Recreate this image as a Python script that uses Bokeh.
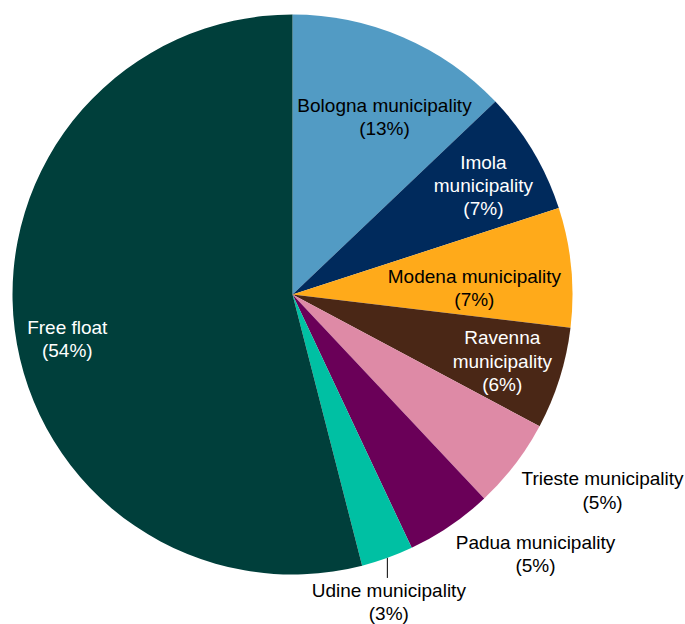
import math
from bokeh.plotting import figure
from bokeh.models import Range1d, ColumnDataSource
from bokeh.core.properties import value
from bokeh.embed import file_html
from bokeh.resources import INLINE

# ---- data ----
names = ["Bologna municipality", "Imola municipality", "Modena municipality",
         "Ravenna municipality", "Trieste municipality", "Padua municipality",
         "Udine municipality", "Free float"]
shares = [12.9, 7.1, 6.9, 5.9, 5.2, 5.0, 3.0, 54.0]
pct_labels = ["13%", "7%", "7%", "6%", "5%", "5%", "3%", "54%"]
label_texts = ["Bologna municipality\n(13%)", "Imola\nmunicipality\n(7%)",
               "Modena municipality\n(7%)", "Ravenna\nmunicipality\n(6%)",
               "Trieste municipality\n(5%)", "Padua municipality\n(5%)",
               "Udine municipality\n(3%)", "Free float\n(54%)"]

# ---- styles / layout ----
colors = ["#529bc4", "#002a5c", "#ffaa1a", "#4a2716", "#de8aa6", "#6a0058",
          "#00c0a3", "#003f3b"]
text_colors = ["black", "white", "black", "white", "black", "black", "black", "white"]
# label polar positions: angle (deg, clockwise from top) and radius factor
label_theta = [27.4, 60.3, 88.0, 107.6, 122.3, 136.9, 162.6, 258.8]
label_r = [0.714, 0.785, 0.65, 0.786, 1.31, 1.27, 1.15, 0.82]

W, H = 685, 624
cx, cy, R = 292, 330, 280

total = sum(shares)
starts, ends = [], []
cum = 0.0
for s in shares:
    a0 = math.pi / 2 - 2 * math.pi * cum / total
    cum += s
    a1 = math.pi / 2 - 2 * math.pi * cum / total
    starts.append(a0)
    ends.append(a1)

src = ColumnDataSource(dict(start=starts, end=ends, color=colors, name=names))

p = figure(width=W, height=H, output_backend="svg", toolbar_location=None,
           x_range=Range1d(0, W), y_range=Range1d(0, H), min_border=0)
p.axis.visible = False
p.grid.visible = False
p.outline_line_color = None
p.background_fill_color = "white"

p.wedge(x=cx, y=cy, radius=R, start_angle="start", end_angle="end",
        direction="clock", fill_color="color", line_color=None, source=src)

lx, ly = [], []
for th, rf in zip(label_theta, label_r):
    t = math.radians(th)
    lx.append(cx + rf * R * math.sin(t))
    ly.append(cy + rf * R * math.cos(t))

lsrc = ColumnDataSource(dict(x=lx, y=ly, text=label_texts, tc=text_colors))
p.text(x="x", y="y", text="text", text_color="tc", source=lsrc,
       text_font=value("Liberation Sans"), text_font_size="19px",
       text_align="center", text_baseline="middle", text_line_height=1.1)

# leader line for Udine slice
ui = names.index("Udine municipality")
mid = (starts[ui] + ends[ui]) / 2
x0 = cx + R * math.cos(mid)
y0 = cy + R * math.sin(mid)
p.segment(x0=[x0], y0=[y0], x1=[x0], y1=[y0 - 20], line_color="black", line_width=1)

open("out.html", "w").write(file_html(p, INLINE))
